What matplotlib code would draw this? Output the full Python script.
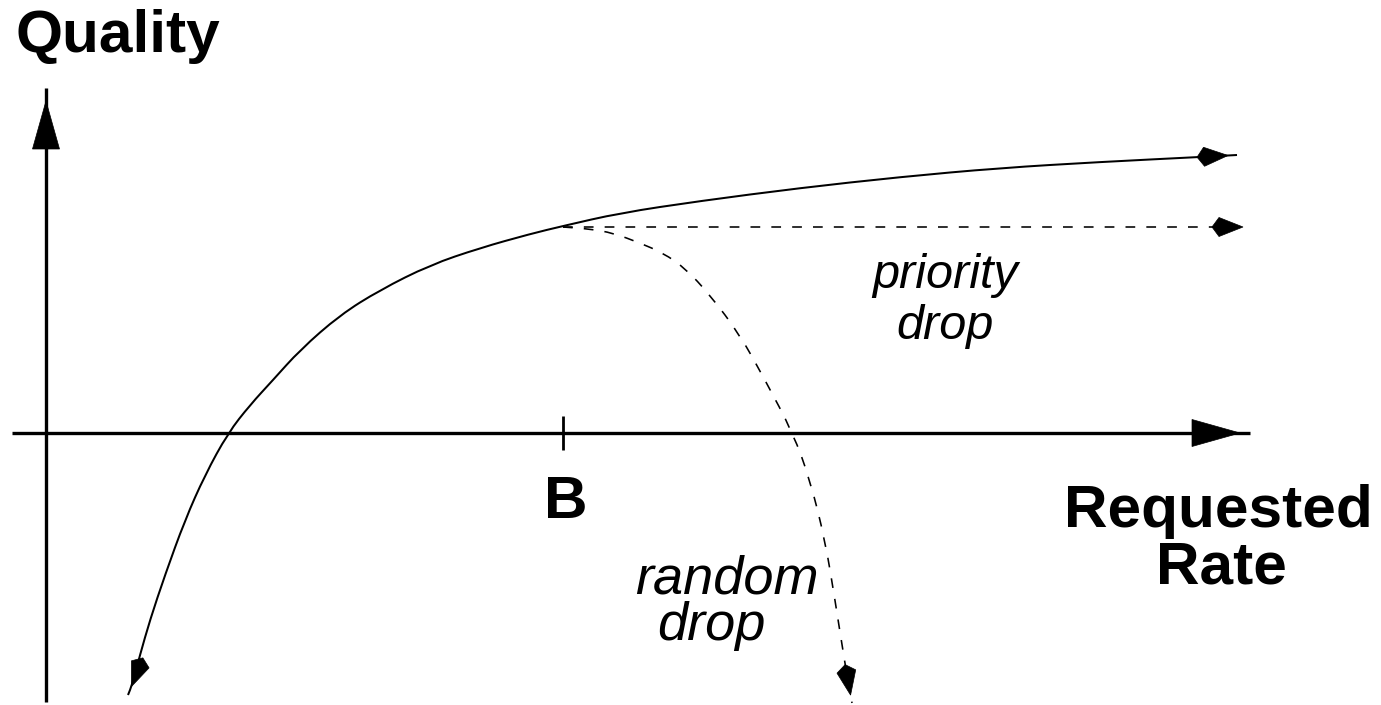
import numpy as np
import matplotlib
matplotlib.use("Agg")
import matplotlib.pyplot as plt
from matplotlib.path import Path
from matplotlib.patches import PathPatch, Polygon

plt.rcParams['font.family'] = ['Liberation Sans', 'DejaVu Sans']
plt.rcParams['lines.scale_dashes'] = False

# ---- data (pixel-like coordinates) ----
quality_x = [128, 132, 140, 150, 165, 185, 205, 228, 250, 273, 300, 340, 380,
             430, 480, 530, 563, 620, 700, 800, 900, 1000, 1100, 1200, 1237]
quality_y = [695, 685, 655, 620, 575, 520, 475, 433, 405, 380, 350, 315, 290,
             265, 248, 234, 226, 213, 201, 188, 177, 168, 162, 157, 155]

random_x = [563, 590, 613, 640, 663, 685, 710, 740, 765, 793, 810, 825, 835, 845, 852]
random_y = [227, 229, 233, 243, 253, 268, 295, 335, 380, 433, 480, 540, 600, 664, 703]

priority_x = [563, 1250]
priority_y = [227, 227]

x_axis = ([12, 1250], [433, 433])
y_axis = ([46, 46], [702, 88])
tick_B = ([563, 563], [416, 450])

# ---- figure ----
fig = plt.figure(figsize=(13.81, 7.05), dpi=100)
ax = fig.add_axes([0, 0, 1, 1])
ax.set_xlim(0, 1381)
ax.set_ylim(705, 0)
ax.axis('off')


def smooth_path(xs, ys):
    pts = np.column_stack([xs, ys]).astype(float)
    verts = [pts[0]]
    codes = [Path.MOVETO]
    if len(pts) > 2:
        mids = (pts[:-1] + pts[1:]) / 2
        verts.append(mids[0]); codes.append(Path.LINETO)
        for i in range(1, len(pts) - 1):
            verts += [pts[i], mids[i]]
            codes += [Path.CURVE3, Path.CURVE3]
    verts.append(pts[-1]); codes.append(Path.LINETO)
    return Path(verts, codes)


def kite(xs, ys, overshoot=8, length=31, side=7, half=9.5):
    p_end = np.array([xs[-1], ys[-1]], float)
    p_prev = np.array([xs[-2], ys[-2]], float)
    d = p_end - p_prev
    d /= np.hypot(*d)
    n = np.array([-d[1], d[0]])
    tip = p_end - overshoot * d
    back = tip - length * d
    s = back + side * d
    return Polygon([back, s + half * n, tip, s - half * n], closed=True,
                   facecolor='black', edgecolor='black', lw=0.5)


def tri(xs, ys, overshoot=10, length=48, half=13.5):
    p_end = np.array([xs[-1], ys[-1]], float)
    p_prev = np.array([xs[-2], ys[-2]], float)
    d = p_end - p_prev
    d /= np.hypot(*d)
    n = np.array([-d[1], d[0]])
    tip = p_end - overshoot * d
    base = tip - length * d
    return Polygon([tip, base + half * n, base - half * n], closed=True,
                   facecolor='black', edgecolor='black', lw=0.5)


# axes
ax.plot(*x_axis, color='black', lw=2.4, solid_capstyle='butt')
ax.plot(*y_axis, color='black', lw=2.4, solid_capstyle='butt')
ax.add_patch(tri(*x_axis))
ax.add_patch(tri(*y_axis, overshoot=13, length=48))
ax.plot(*tick_B, color='black', lw=2.0, solid_capstyle='butt')

# main curve
ax.add_patch(PathPatch(smooth_path(quality_x, quality_y), fill=False,
                       edgecolor='black', lw=1.45))
ax.add_patch(kite(quality_x, quality_y, overshoot=9))
ax.add_patch(kite(quality_x[::-1], quality_y[::-1], overshoot=9))

# priority drop
ax.plot(priority_x, priority_y, color='black', lw=1.15, dashes=(7, 8))
ax.add_patch(kite(priority_x, priority_y, overshoot=7))

# random drop
ax.add_patch(PathPatch(smooth_path(random_x, random_y), fill=False,
                       edgecolor='black', lw=1.15, linestyle=(0, (7, 8))))
ax.add_patch(kite(random_x, random_y, overshoot=8))

# texts
ax.text(16, 52, 'Quality', fontsize=43.5, fontweight='bold', ha='left', va='baseline')
ax.text(566, 518, 'B', fontsize=43.5, fontweight='bold', ha='center', va='baseline')
ax.text(1218, 527, 'Requested', fontsize=43.5, fontweight='bold', ha='center', va='baseline')
ax.text(1221, 584, 'Rate', fontsize=43.5, fontweight='bold', ha='center', va='baseline')
ax.text(945, 288, 'priority', fontsize=35, style='italic', ha='center', va='baseline')
ax.text(945, 339, 'drop', fontsize=35, style='italic', ha='center', va='baseline')
ax.text(727, 593, 'random', fontsize=39, style='italic', ha='center', va='baseline')
ax.text(711, 640, 'drop', fontsize=39, style='italic', ha='center', va='baseline')

fig.savefig('out.png', dpi=100)
